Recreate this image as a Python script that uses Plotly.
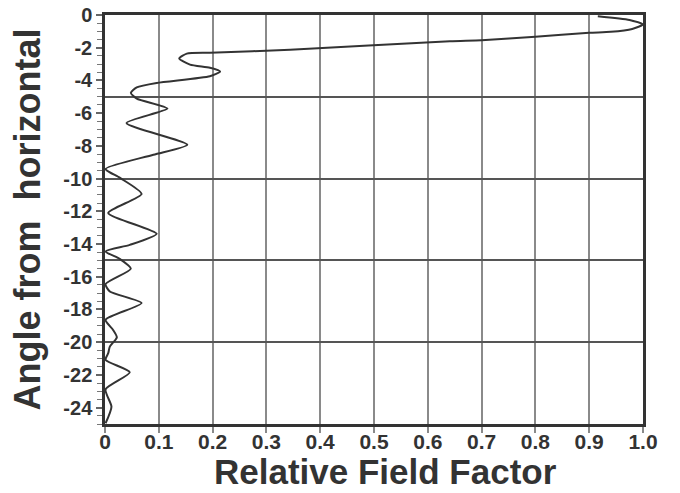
import plotly.graph_objects as go

# Relative field factor vs angle
angle = [-0.07, -0.3, -0.58, -0.85, -1.03, -1.09, -1.33, -1.54, -1.6, -2.12, -2.31, -2.36,
         -2.66, -3.03, -3.23, -3.46, -3.74, -4.15, -4.42, -4.76, -5.11, -5.72, -6.6,
         -7.93, -8.54, -9.41, -9.96, -10.94, -12.1, -13.37, -14.05, -14.45, -14.92,
         -15.51, -16.45, -16.9, -17.61, -18.63, -19.25, -19.7, -20.27, -20.67, -21.08,
         -21.84, -22.88, -23.94, -24.96]
factor = [0.916, 0.975, 1.0, 0.98, 0.94, 0.90, 0.80, 0.70, 0.641, 0.344, 0.195, 0.152,
          0.138, 0.158, 0.195, 0.214, 0.195, 0.096, 0.059, 0.048, 0.059, 0.116, 0.040,
          0.153, 0.090, 0.001, 0.028, 0.068, 0.006, 0.096, 0.046, 0.001, 0.028,
          0.048, 0.001, 0.009, 0.068, 0.001, 0.015, 0.022, 0.009, 0.006, 0.001,
          0.046, 0.001, 0.012, 0.001]

x_ticks = [0, 0.1, 0.2, 0.3, 0.4, 0.5, 0.6, 0.7, 0.8, 0.9, 1.0]
x_labels = ["0", "0.1", "0.2", "0.3", "0.4", "0.5", "0.6", "0.7", "0.8", "0.9", "1.0"]
y_ticks = [0, -2, -4, -6, -8, -10, -12, -14, -16, -18, -20, -22, -24]
y_grid = [-5, -10, -15, -20]
x_title = "Relative Field Factor"
y_title = "Angle from  horizontal"

dark = "#333333"
grid = "#8a8a8a"
fam = "Liberation Sans, Arial"

fig = go.Figure()
fig.add_trace(go.Scatter(x=factor, y=angle, mode="lines",
                         line=dict(color=dark, width=2, shape="spline", smoothing=0.6),
                         showlegend=False, hoverinfo="skip"))
# invisible trace on second y axis for the horizontal grid
fig.add_trace(go.Scatter(x=[0], y=[0], yaxis="y2", mode="markers", marker=dict(opacity=0),
                         showlegend=False, hoverinfo="skip"))

fig.update_layout(
    width=680, height=493,
    margin=dict(l=105, r=37, t=15, b=69),
    paper_bgcolor="white", plot_bgcolor="white",
    font=dict(family=fam, color=dark),
    xaxis=dict(range=[0, 1.0], tickvals=x_ticks, ticktext=["<b>%s</b>" % t for t in x_labels],
               showgrid=True, gridcolor=grid, gridwidth=2, automargin=False,
               ticks="outside", ticklen=6, tickwidth=1.5, tickcolor=grid, ticklabelstandoff=-9,
               showline=True, linecolor=dark, linewidth=2.5, mirror=True, zeroline=False,
               tickfont=dict(family=fam, size=21, color=dark, weight="bold")),
    yaxis=dict(range=[-25, 0], tickvals=y_ticks, ticktext=["<b>%d</b>" % v for v in y_ticks], showgrid=False,
               automargin=False,
               ticks="outside", ticklen=6, tickwidth=1.5, tickcolor="#666666",
               minor=dict(dtick=0.5, ticks="outside", ticklen=5, tickcolor="#777777", tickwidth=1.2),
               showline=True, linecolor=dark, linewidth=2.5, mirror=True, zeroline=False,
               tickfont=dict(family=fam, size=20, color=dark, weight="bold"),
               title=dict(text=y_title,
                          font=dict(family=fam, size=36, color=dark, weight="bold"), standoff=12)),
    yaxis2=dict(range=[-25, 0], overlaying="y", tickvals=y_grid, showgrid=True, gridcolor="#555555", gridwidth=1.5,
                showticklabels=False, ticks="", zeroline=False, showline=False, automargin=False),
    annotations=[dict(text=x_title, xref="paper", yref="paper", x=0.521, y=-0.116,
                      xanchor="center", yanchor="middle", showarrow=False,
                      font=dict(family=fam, size=35, color=dark, weight="bold"))],
)

fig.write_html("out.html")
